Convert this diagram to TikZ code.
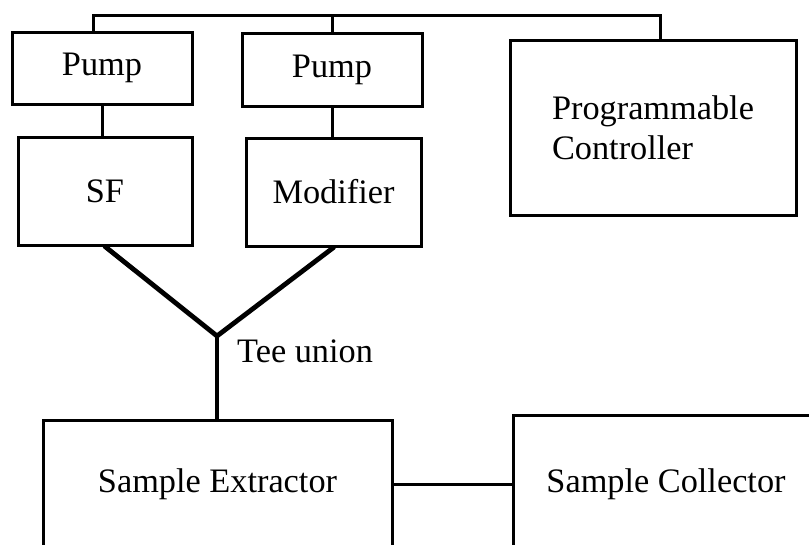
\documentclass[tikz,border=0pt]{standalone}
\usepackage{fontspec}
\setmainfont{Liberation Serif}
\begin{document}
\begin{tikzpicture}[x=1pt,y=-1pt,
  blk/.style={draw, line width=3pt, inner sep=0pt, font=\fontsize{34.3}{40}\selectfont},
  wire/.style={line width=3pt},
  vwire/.style={line width=4.8pt, line cap=round},
  lbl/.style={inner sep=0pt, font=\fontsize{34.3}{40}\selectfont}]
\useasboundingbox (0,0) rectangle (809,544);
\clip (0,0) rectangle (809,544);
\node[blk, minimum width=180, minimum height=72] (p1) at (102,68) {Pump};
\node[blk, minimum width=180, minimum height=73] (p2) at (332,69.5) {Pump};
\node[blk, minimum width=174, minimum height=108] (sf) at (105,191) {SF};
\node[blk, minimum width=175, minimum height=108] (mod) at (333.5,192) {Modifier};
\node[blk, minimum width=286, minimum height=175, align=left] (ctrl) at (653,127.5) {Programmable\\Controller};
\node[blk, anchor=base, minimum width=349, text height=72, text depth=120] (ext) at (217.5,492) {Sample Extractor};
\node[blk, anchor=base, minimum width=306, text height=77, text depth=120] (coll) at (666,492) {Sample Collector};
\coordinate (busL) at (93,15);
\coordinate (busR) at (660,15);
\coordinate (tee) at (217,336);
\node[lbl, anchor=base west] (teel) at (237,362) {Tee union};
\draw[wire] (busL |- p1.north) -- (busL) -- (busR) -- (busR |- ctrl.north);
\draw[wire] (p2.north) -- (p2.north |- busL);
\draw[wire] (p1.south) -- (p1.south |- sf.north);
\draw[wire] (p2.south) -- (p2.south |- mod.north);
\draw[vwire] (sf.south) -- (tee) -- (mod.south);
\draw[line width=3.6pt] (tee) -- (tee |- ext.north);
\draw[wire] (ext.north east |- 0,484) -- (coll.north west |- 0,484);
\end{tikzpicture}
\end{document}
